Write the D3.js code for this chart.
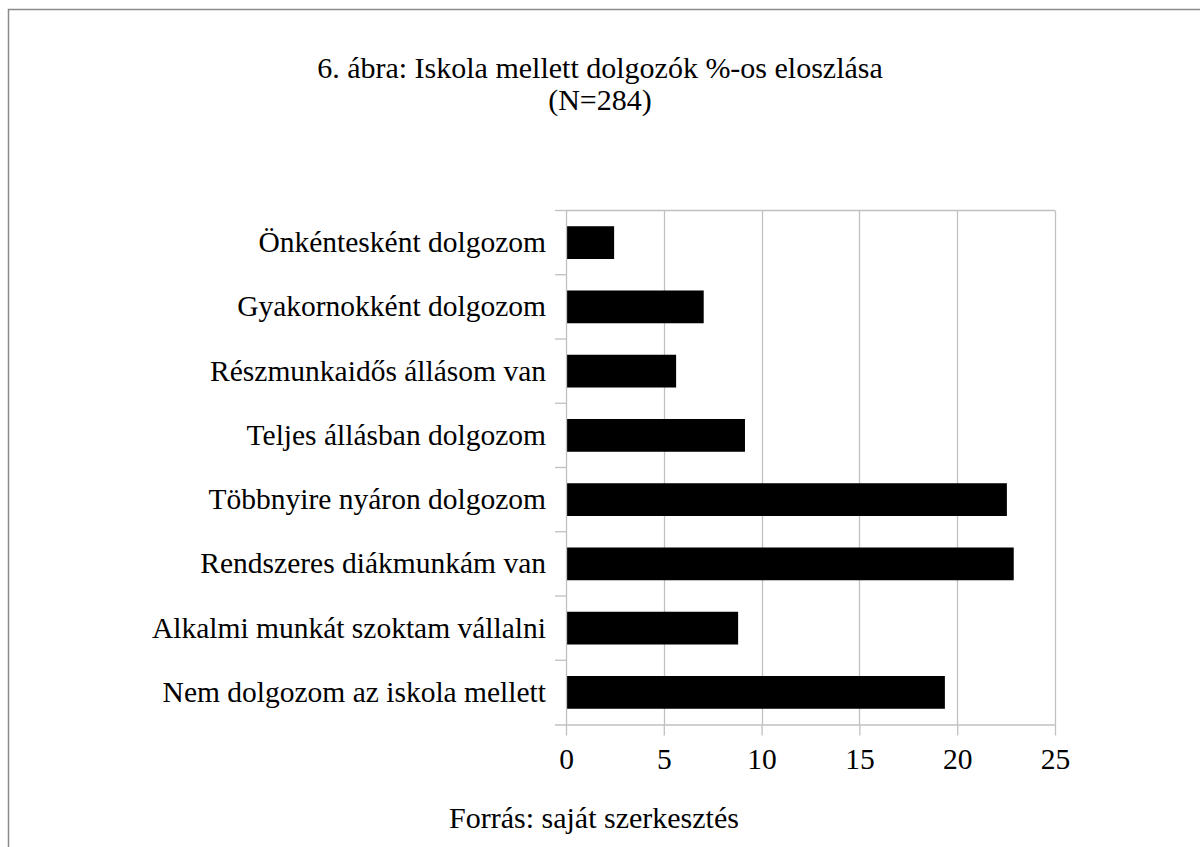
<!DOCTYPE html>
<html>
<head>
<meta charset="utf-8">
<script src="https://cdn.jsdelivr.net/npm/d3@7"></script>
<style>
  html, body { margin: 0; padding: 0; background: #fff; }
  svg text { font-family: "Liberation Serif", "DejaVu Serif", serif; fill: #000; }
</style>
</head>
<body>
<svg id="chart" width="1200" height="847"></svg>
<script>
// adatok (%)
const categories = [
  "Önkéntesként dolgozom",
  "Gyakornokként dolgozom",
  "Részmunkaidős állásom van",
  "Teljes állásban dolgozom",
  "Többnyire nyáron dolgozom",
  "Rendszeres diákmunkám van",
  "Alkalmi munkát szoktam vállalni",
  "Nem dolgozom az iskola mellett"
];
const values = [2.46, 7.04, 5.63, 9.15, 22.54, 22.89, 8.80, 19.37];
const xTicks = [0, 5, 10, 15, 20, 25];
const titleLines = ["6. ábra: Iskola mellett dolgozók %-os eloszlása", "(N=284)"];
const sourceText = "Forrás: saját szerkesztés";

const svg = d3.select("#chart");
const plot = {left: 566, right: 1055, top: 210.5, bottom: 724.5};
const fontSize = 29.5;

// keret
svg.append("path")
    .attr("d", "M8.5,847 V9.5 H1200")
    .attr("fill", "none")
    .attr("stroke", "#8a8a8a")
    .attr("stroke-width", 1.5);

const x = d3.scaleLinear().domain([0, 25]).range([plot.left, plot.right]);
const y = d3.scaleBand().domain(categories).range([plot.top, plot.bottom]).paddingInner(0.49).paddingOuter(0.245);
const yb = d3.scaleBand().domain(categories).range([plot.top, plot.bottom]);

// rácsvonalak
svg.append("g")
    .selectAll("line")
    .data(xTicks.slice(1))
    .join("line")
    .attr("x1", d => Math.round(x(d)) + 0.5)
    .attr("x2", d => Math.round(x(d)) + 0.5)
    .attr("y1", plot.top)
    .attr("y2", plot.bottom)
    .attr("stroke", "#c0c0c0")
    .attr("stroke-width", 1.3);

// felső keret
svg.append("line")
    .attr("x1", plot.left).attr("x2", plot.right)
    .attr("y1", plot.top).attr("y2", plot.top)
    .attr("stroke", "#c0c0c0").attr("stroke-width", 1.3);

// oszlopok
svg.append("g")
    .selectAll("rect")
    .data(values)
    .join("rect")
    .attr("x", x(0))
    .attr("y", (d, i) => y(categories[i]))
    .attr("width", d => x(d) - x(0))
    .attr("height", y.bandwidth())
    .attr("fill", "#000");

// x tengely
const xAxis = svg.append("g")
    .attr("transform", `translate(0,${plot.bottom})`)
    .call(d3.axisBottom(x).tickValues(xTicks).tickSize(11).tickPadding(13).tickSizeOuter(0));
xAxis.select(".domain").attr("stroke", "#c0c0c0").attr("stroke-width", 1.3)
    .attr("d", `M${plot.left - 11},0.5H${plot.right}`);
xAxis.selectAll(".tick line").attr("stroke", "#c0c0c0").attr("stroke-width", 1.3);
xAxis.selectAll(".tick text").attr("font-size", fontSize).attr("font-family", "Liberation Serif").attr("fill", "#000");

// y tengely
const yAxis = svg.append("g")
    .attr("transform", `translate(${plot.left},0)`)
    .call(d3.axisLeft(yb).tickSize(0).tickPadding(20).tickSizeOuter(0));
yAxis.select(".domain").attr("stroke", "#c0c0c0").attr("stroke-width", 1.3);
yAxis.selectAll(".tick text").attr("font-size", fontSize).attr("font-family", "Liberation Serif").attr("fill", "#000");

// kategóriahatárok jelölői
svg.append("g")
    .selectAll("line")
    .data(categories.slice(1))
    .join("line")
    .attr("x1", plot.left - 11)
    .attr("x2", plot.left)
    .attr("y1", d => yb(d))
    .attr("y2", d => yb(d))
    .attr("stroke", "#c0c0c0")
    .attr("stroke-width", 1.3);
svg.append("line")
    .attr("x1", plot.left - 11).attr("x2", plot.left)
    .attr("y1", plot.top).attr("y2", plot.top)
    .attr("stroke", "#c0c0c0").attr("stroke-width", 1.3);

// cím
svg.append("text")
    .attr("x", 600)
    .attr("y", 78)
    .attr("text-anchor", "middle")
    .attr("font-size", 30)
    .selectAll("tspan")
    .data(titleLines)
    .join("tspan")
    .attr("x", 600)
    .attr("dy", (d, i) => i === 0 ? 0 : 32)
    .text(d => d);

// forrás
svg.append("text")
    .attr("x", 594)
    .attr("y", 828)
    .attr("text-anchor", "middle")
    .attr("font-size", 30)
    .text(sourceText);
</script>
</body>
</html>
